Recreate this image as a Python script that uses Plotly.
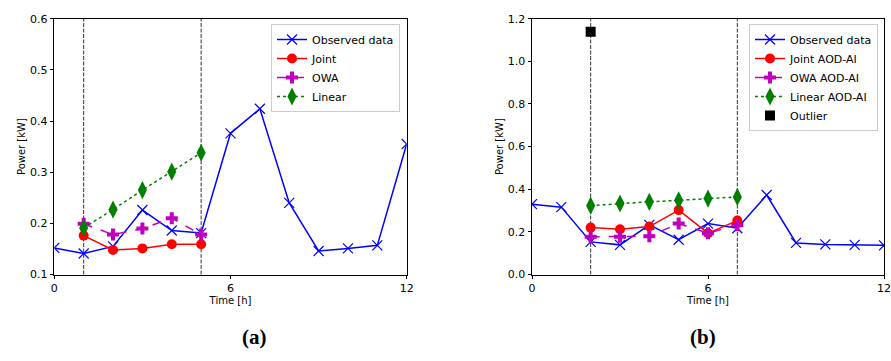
import plotly.graph_objects as go

# ---------- data ----------
hours = list(range(13))

# Panel (a)
obs_a = [0.152, 0.141, 0.155, 0.226, 0.186, 0.181, 0.376, 0.424, 0.240, 0.146, 0.151, 0.157, 0.355]
pred_x_a = [1, 2, 3, 4, 5]
joint_a = [0.176, 0.148, 0.151, 0.159, 0.159]
owa_a = [0.199, 0.178, 0.190, 0.210, 0.178]
linear_a = [0.191, 0.227, 0.265, 0.301, 0.338]
vlines_a = [1, 5]

# Panel (b)
obs_b = [0.330, 0.316, 0.153, 0.139, 0.233, 0.163, 0.239, 0.217, 0.373, 0.148, 0.141, 0.139, 0.137]
pred_x_b = [2, 3, 4, 5, 6, 7]
joint_b = [0.220, 0.212, 0.225, 0.302, 0.194, 0.253]
owa_b = [0.177, 0.177, 0.180, 0.239, 0.194, 0.231]
linear_b = [0.323, 0.333, 0.341, 0.348, 0.356, 0.364]
outlier_x = [2]
outlier_y = [1.139]
vlines_b = [2, 7]

x_ticks = [0, 6, 12]
y_ticks_a = [0.1, 0.2, 0.3, 0.4, 0.5, 0.6]
y_ticks_b = [0.0, 0.2, 0.4, 0.6, 0.8, 1.0, 1.2]

FONT = "DejaVu Sans"
fig = go.Figure()


def add_series(xa, ya, legend, obs, px, joint, owa, lin, names):
    fig.add_trace(go.Scatter(x=hours, y=obs, mode="lines+markers", name=names[0],
                             line=dict(color="#0000ff", width=1.5),
                             marker=dict(symbol="x-thin", size=10, line=dict(color="#0000ff", width=1.2)),
                             xaxis=xa, yaxis=ya, legend=legend))
    fig.add_trace(go.Scatter(x=px, y=joint, mode="lines+markers", name=names[1],
                             line=dict(color="#ff0000", width=1.5),
                             marker=dict(symbol="circle", size=10, color="#ff0000"),
                             xaxis=xa, yaxis=ya, legend=legend))
    fig.add_trace(go.Scatter(x=px, y=owa, mode="lines+markers", name=names[2],
                             line=dict(color="#bf00bf", width=1.5, dash="dash"),
                             marker=dict(symbol="cross", size=10, color="#bf00bf"),
                             xaxis=xa, yaxis=ya, legend=legend))
    fig.add_trace(go.Scatter(x=px, y=lin, mode="lines+markers", name=names[3],
                             line=dict(color="#008000", width=1.5, dash="dot"),
                             marker=dict(symbol="diamond-tall", size=13, color="#008000"),
                             xaxis=xa, yaxis=ya, legend=legend))


add_series("x", "y", "legend", obs_a, pred_x_a, joint_a, owa_a, linear_a,
           ["Observed data", "Joint", "OWA", "Linear"])
add_series("x2", "y2", "legend2", obs_b, pred_x_b, joint_b, owa_b, linear_b,
           ["Observed data", "Joint AOD-AI", "OWA AOD-AI", "Linear AOD-AI"])
fig.add_trace(go.Scatter(x=outlier_x, y=outlier_y, mode="markers", name="Outlier",
                         marker=dict(symbol="square", size=10, color="#000000"),
                         xaxis="x2", yaxis="y2", legend="legend2"))

shapes = []
for v in vlines_a:
    shapes.append(dict(type="line", xref="x", yref="y domain", x0=v, x1=v, y0=0, y1=1,
                       line=dict(color="#333333", width=1, dash="4px,1.5px"), layer="below"))
for v in vlines_b:
    shapes.append(dict(type="line", xref="x2", yref="y2 domain", x0=v, x1=v, y0=0, y1=1,
                       line=dict(color="#333333", width=1, dash="4px,1.5px"), layer="below"))

W, H = 891, 361
ydom = [1 - 274.5 / H, 1 - 18.7 / H]

axis_common = dict(showgrid=False, zeroline=False, showline=True, linecolor="black", linewidth=1,
                   mirror=True, ticks="outside", ticklen=3.5, tickwidth=1, tickcolor="black",
                   automargin=False,
                   tickfont=dict(family=FONT, size=11, color="black"))

fig.update_layout(
    width=W, height=H,
    margin=dict(l=0, r=0, t=0, b=0),
    paper_bgcolor="white", plot_bgcolor="white",
    font=dict(family=FONT, color="black"),
    shapes=shapes,
    xaxis=dict(domain=[54.3 / W, 406.7 / W], range=[0, 12], tickvals=x_ticks,
               title=dict(text="Time [h]", font=dict(family=FONT, size=10), standoff=2),
               anchor="y", **axis_common),
    yaxis=dict(domain=ydom, range=[0.1, 0.6], tickvals=y_ticks_a, tickformat=".1f",
               title=dict(text="Power [kW]", font=dict(family=FONT, size=10), standoff=2),
               anchor="x", **axis_common),
    xaxis2=dict(domain=[532 / W, 884 / W], range=[0, 12], tickvals=x_ticks,
                title=dict(text="Time [h]", font=dict(family=FONT, size=10), standoff=2),
                anchor="y2", **axis_common),
    yaxis2=dict(domain=ydom, range=[0, 1.2], tickvals=y_ticks_b, tickformat=".1f",
                title=dict(text="Power [kW]", font=dict(family=FONT, size=10), standoff=2),
                anchor="x2", **axis_common),
    legend=dict(x=400 / W, y=1 - 24 / H, xanchor="right", yanchor="top",
                bgcolor="rgba(255,255,255,0.9)", bordercolor="#cccccc", borderwidth=1,
                font=dict(family=FONT, size=11), tracegroupgap=0, itemwidth=30),
    legend2=dict(x=878 / W, y=1 - 24 / H, xanchor="right", yanchor="top",
                 bgcolor="rgba(255,255,255,0.9)", bordercolor="#cccccc", borderwidth=1,
                 font=dict(family=FONT, size=11), tracegroupgap=0, itemwidth=30),
    annotations=[
        dict(text="<b>(a)</b>", x=240 / W, y=1 - 351 / H, xref="paper", yref="paper",
             showarrow=False, font=dict(family="Liberation Serif", size=21, color="black")),
        dict(text="<b>(b)</b>", x=718 / W, y=1 - 351 / H, xref="paper", yref="paper",
             showarrow=False, font=dict(family="Liberation Serif", size=21, color="black")),
    ],
)

fig.write_html("out.html", config={"displayModeBar": False},
               post_script="document.body.style.margin='0';document.body.style.overflow='hidden';")
